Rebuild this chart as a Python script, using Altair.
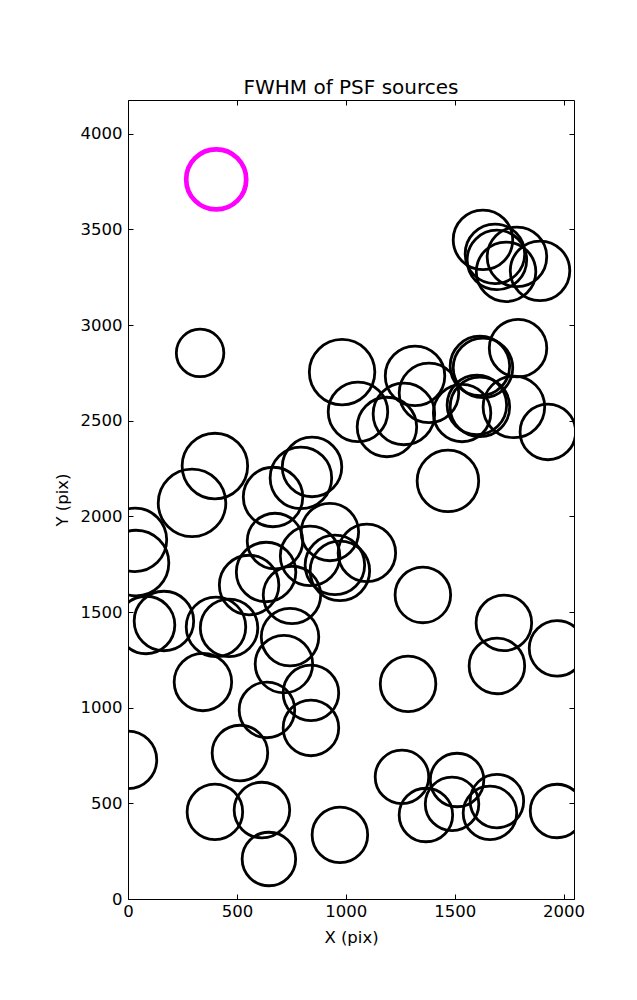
import altair as alt
import pandas as pd

# Source positions (pix) and FWHM values
x_pos = [331, 1630, 1685, 1694, 1736, 1786, 1892, 1791, 1616, 1630,
         983, 1056, 1189, 1267, 1318, 1382, 1534, 1602, 1616, 1772,
         1928, 399, 294, 666, 794, 845, 1469, 32, 37, 675,
         927, 836, 950, 973, 1097, 634, 556, 753, 1354, 83,
         165, 404, 464, 744, 716, 1726, 1970, 1694, 344, 840,
         638, 840, 1286, 514, 0, 1258, 1511, 1694, 1368, 1488,
         1662, 1970, 399, 615, 647, 973]
y_pos = [2854, 3445, 3372, 3340, 3278, 3356, 3283, 2879, 2786, 2776,
         2754, 2546, 2467, 2535, 2734, 2645, 2540, 2582, 2572, 2572,
         2441, 2263, 2070, 2101, 2201, 2258, 2185, 1877, 1756, 1871,
         1918, 1793, 1746, 1715, 1809, 1709, 1641, 1589, 1589, 1432,
         1453, 1422, 1417, 1369, 1228, 1443, 1310, 1218, 1134, 1077,
         988, 894, 1124, 763, 727, 638, 622, 512, 439, 497,
         450, 460, 455, 465, 209, 335]
fwhm = [3.96, 4.96, 4.96, 4.96, 4.96, 4.96, 4.96, 4.79, 4.96, 4.96,
        5.46, 4.96, 4.96, 5.13, 4.96, 4.96, 4.79, 4.96, 4.96, 5.13,
        4.63, 5.46, 5.63, 4.96, 5.13, 4.96, 5.13, 5.29, 5.46, 4.63,
        4.79, 4.96, 4.96, 4.96, 4.79, 4.96, 4.96, 4.79, 4.63, 4.79,
        4.96, 4.96, 4.79, 4.79, 4.79, 4.63, 4.63, 4.63, 4.79, 4.63,
        4.63, 4.63, 4.63, 4.63, 4.79, 4.46, 4.46, 4.46, 4.46, 4.46,
        4.46, 4.46, 4.63, 4.63, 4.46, 4.63]

ref_x = [405]
ref_y = [3761]
ref_fwhm = [5.0]

x_ticks = [0, 500, 1000, 1500, 2000]
y_ticks = [0, 500, 1000, 1500, 2000, 2500, 3000, 3500, 4000]

df = pd.DataFrame({"x": x_pos, "y": y_pos, "fwhm": fwhm})
ref = pd.DataFrame({"x": ref_x, "y": ref_y, "fwhm": ref_fwhm})

xscale = alt.Scale(domain=[0, 2048], nice=False, zero=False)
yscale = alt.Scale(domain=[0, 4176], nice=False, zero=False)
sscale = alt.Scale(type="pow", exponent=2, domain=[0, 10], range=[0, 14400])

FONT = "DejaVu Sans"
axis_kw = dict(tickSize=5, offset=-5, domain=False, grid=False,
               tickColor="black", tickWidth=1, labelFlush=False,
               labelFont=FONT, labelFontSize=16.5, labelColor="black",
               titleFont=FONT, titleFontSize=16.5, titleFontWeight="normal",
               titleColor="black")

black = alt.Chart(df).mark_point(
    shape="circle", filled=False, stroke="black", strokeWidth=2.8,
    opacity=1, clip=True
).encode(
    x=alt.X("x:Q", scale=xscale,
            axis=alt.Axis(values=x_ticks, title="X (pix)", format="d",
                          labelPadding=4, titlePadding=10, **axis_kw)),
    y=alt.Y("y:Q", scale=yscale,
            axis=alt.Axis(values=y_ticks, title="Y (pix)", format="d",
                          labelPadding=6, titlePadding=10, **axis_kw)),
    size=alt.Size("fwhm:Q", scale=sscale, legend=None),
)

magenta = alt.Chart(ref).mark_point(
    shape="circle", filled=False, stroke="#ff00ff", strokeWidth=4.7,
    opacity=1, clip=True
).encode(
    x=alt.X("x:Q", scale=xscale,
            axis=alt.Axis(orient="top", values=x_ticks, labels=False, title="",
                          **axis_kw)),
    y=alt.Y("y:Q", scale=yscale,
            axis=alt.Axis(orient="right", values=y_ticks, labels=False, title="",
                          **axis_kw)),
    size=alt.Size("fwhm:Q", scale=sscale, legend=None),
)

chart = alt.layer(black, magenta).resolve_axis(
    x="independent", y="independent"
).properties(
    width=446, height=799,
    autosize="none",
    padding={"left": 120, "top": 92, "right": 50, "bottom": 90},
    title=alt.TitleParams("FWHM of PSF sources", font=FONT, fontSize=20,
                          fontWeight="normal", color="black", anchor="middle",
                          baseline="alphabetic", offset=-14),
    background="white",
).configure_view(stroke="black", strokeWidth=1)

chart.save("out.html", embed_options={"renderer": "svg", "actions": False})
